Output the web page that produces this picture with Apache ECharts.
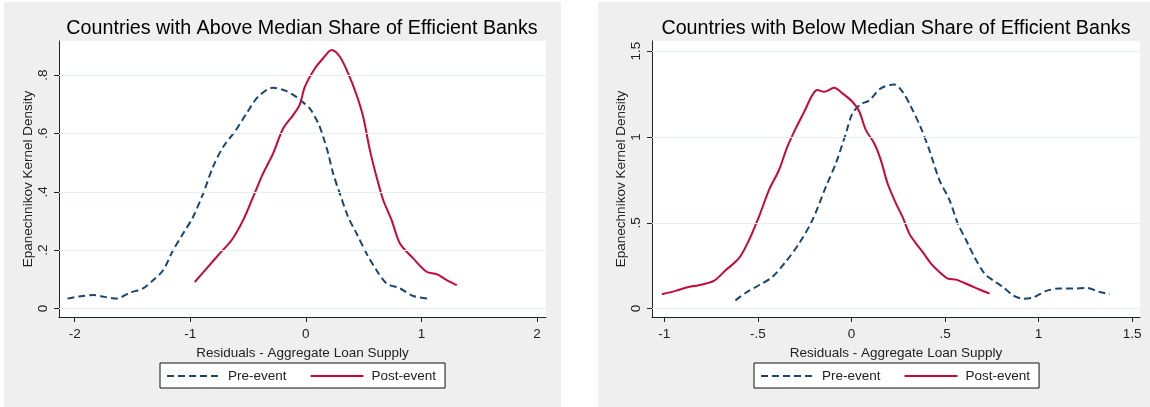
<!DOCTYPE html>
<html>
<head>
<meta charset="utf-8">
<script src="https://cdn.jsdelivr.net/npm/echarts@6/dist/echarts.min.js"></script>
<style>
html,body{margin:0;padding:0;background:#fff;}
#chart{width:1150px;height:407px;}
</style>
</head>
<body>
<div id="chart"></div>
<script>
// ---- Data ----
const titles = ['Countries with Above Median Share of Efficient Banks', 'Countries with Below Median Share of Efficient Banks'];
const seriesNames = ['Pre-event', 'Post-event'];
const xTitle = 'Residuals - Aggregate Loan Supply';
const yTitle = 'Epanechnikov Kernel Density';

const leftXTicks = [-2, -1, 0, 1, 2];
const leftYTicks = [0, 0.2, 0.4, 0.6, 0.8];
const rightXTicks = [-1, -0.5, 0, 0.5, 1, 1.5];
const rightYTicks = [0, 0.5, 1, 1.5];

const abovePre = [[-2.063,0.034],[-1.95,0.042],[-1.841,0.046],[-1.74,0.040],[-1.639,0.034],[-1.524,0.054],[-1.409,0.069],[-1.322,0.097],[-1.235,0.131],[-1.149,0.2],[-1.062,0.257],[-0.976,0.314],[-0.889,0.394],[-0.803,0.486],[-0.716,0.554],[-0.615,0.606],[-0.513,0.669],[-0.413,0.726],[-0.283,0.757],[-0.167,0.745],[-0.1,0.73],[-0.04,0.712],[0.035,0.685],[0.107,0.635],[0.15,0.589],[0.193,0.532],[0.236,0.463],[0.294,0.394],[0.366,0.314],[0.439,0.257],[0.525,0.189],[0.612,0.131],[0.699,0.086],[0.814,0.069],[0.929,0.043],[1.05,0.034]];
const abovePost = [[-0.961,0.091],[-0.86,0.137],[-0.745,0.189],[-0.643,0.234],[-0.543,0.303],[-0.456,0.383],[-0.37,0.463],[-0.283,0.532],[-0.197,0.617],[-0.11,0.663],[-0.052,0.70],[-0.009,0.76],[0.078,0.823],[0.15,0.858],[0.222,0.886],[0.294,0.863],[0.366,0.806],[0.439,0.732],[0.496,0.657],[0.554,0.543],[0.612,0.451],[0.669,0.372],[0.742,0.303],[0.814,0.223],[0.929,0.172],[1.045,0.126],[1.132,0.118],[1.219,0.097],[1.306,0.080]];
const belowPre = [[-0.62,0.048],[-0.566,0.091],[-0.495,0.136],[-0.423,0.184],[-0.352,0.272],[-0.28,0.379],[-0.209,0.515],[-0.137,0.709],[-0.084,0.845],[-0.03,1.02],[0.005,1.137],[0.05,1.19],[0.095,1.213],[0.157,1.283],[0.229,1.306],[0.273,1.263],[0.318,1.176],[0.372,1.05],[0.416,0.924],[0.47,0.749],[0.524,0.632],[0.568,0.496],[0.613,0.398],[0.657,0.301],[0.711,0.204],[0.756,0.165],[0.809,0.126],[0.863,0.078],[0.916,0.058],[0.97,0.064],[1.042,0.103],[1.113,0.117],[1.184,0.117],[1.256,0.12],[1.327,0.097],[1.381,0.083]];
const belowPost = [[-1.013,0.083],[-0.941,0.103],[-0.87,0.126],[-0.816,0.136],[-0.736,0.161],[-0.673,0.223],[-0.602,0.292],[-0.548,0.398],[-0.495,0.534],[-0.441,0.69],[-0.388,0.806],[-0.343,0.942],[-0.298,1.05],[-0.253,1.146],[-0.209,1.244],[-0.182,1.273],[-0.146,1.263],[-0.093,1.286],[-0.048,1.254],[0.005,1.205],[0.041,1.15],[0.077,1.04],[0.122,0.962],[0.157,0.865],[0.193,0.729],[0.238,0.612],[0.273,0.534],[0.309,0.437],[0.345,0.379],[0.38,0.33],[0.425,0.262],[0.47,0.213],[0.515,0.175],[0.559,0.169],[0.631,0.136],[0.684,0.111],[0.738,0.087]];

// ---- Styling ----
const FONT = '"Liberation Sans", Arial, sans-serif';
const NAVY = '#1a476f';
const RED = '#c8083a';
const GRIDC = '#e6eff0';
const AXC = '#222';
const PANEL = '#efefef';

const fmt = v => String(+v.toFixed(2)).replace(/^(-?)0\./, '$1.');

function xAxisFor(idx, min, max, ticks) {
  return {
    type: 'value', gridIndex: idx, min: min, max: max,
    name: xTitle, nameLocation: 'middle', nameGap: 20,
    nameTextStyle: {fontFamily: FONT, fontSize: 13.5, color: '#222'},
    axisLine: {show: true, onZero: false, lineStyle: {color: AXC, width: 1}},
    axisTick: {show: true, length: 5, inside: false, customValues: ticks, lineStyle: {color: AXC}},
    axisLabel: {show: true, customValues: ticks, formatter: fmt, margin: 10,
      fontFamily: FONT, fontSize: 13.5, color: '#222'},
    splitLine: {show: false}
  };
}
function yAxisFor(idx, min, max, ticks) {
  return {
    type: 'value', gridIndex: idx, min: min, max: max,
    name: yTitle, nameLocation: 'middle', nameGap: 24, nameRotate: 90,
    nameTextStyle: {fontFamily: FONT, fontSize: 13.5, color: '#222'},
    axisLine: {show: true, onZero: false, lineStyle: {color: AXC, width: 1}},
    axisTick: {show: true, length: 5, inside: false, customValues: ticks, lineStyle: {color: AXC}},
    axisLabel: {show: true, customValues: ticks, formatter: fmt, rotate: 90, margin: 9,
      fontFamily: FONT, fontSize: 13.5, color: '#222'},
    splitLine: {show: false}
  };
}
function gridSeries(idx, ticks) {
  return {
    type: 'line', name: 'grid' + idx, xAxisIndex: idx, yAxisIndex: idx, data: [], z: 1,
    silent: true,
    markLine: {silent: true, symbol: 'none', animation: false,
      label: {show: false},
      lineStyle: {color: GRIDC, width: 1.2, type: 'solid'},
      data: ticks.map(v => ({yAxis: v}))}
  };
}
function curve(idx, name, data, color, dashed) {
  return {
    type: 'line', name: name, xAxisIndex: idx, yAxisIndex: idx, data: data,
    showSymbol: false, symbol: 'none', smooth: 0.3, z: 3, animation: false,
    lineStyle: {color: color, width: 2, type: dashed ? [7, 4] : 'solid'},
    itemStyle: {color: color}
  };
}
function legendFor(left) {
  return {
    data: seriesNames, left: left, top: 363, orient: 'horizontal',
    itemWidth: 53, itemHeight: 14, itemGap: 23,
    padding: [6, 9, 5, 6],
    backgroundColor: '#fff', borderColor: '#111', borderWidth: 1, borderRadius: 0,
    selectedMode: false,
    itemStyle: {opacity: 0},
    textStyle: {fontFamily: FONT, fontSize: 13.5, color: '#222', padding: [0, 0, 0, 3]}
  };
}

const chart = echarts.init(document.getElementById('chart'), null, {renderer: 'canvas'});
chart.setOption({
  animation: false,
  backgroundColor: '#fff',
  graphic: [
    {type: 'rect', shape: {x: 4, y: 2, width: 557, height: 405}, style: {fill: PANEL}, z: -10, silent: true},
    {type: 'rect', shape: {x: 598, y: 2, width: 552, height: 405}, style: {fill: PANEL}, z: -10, silent: true}
  ],
  title: [
    {text: titles[0], left: 302, top: 19, textAlign: 'center', padding: 0,
      textStyle: {fontFamily: FONT, fontSize: 19.7, fontWeight: 'normal', color: '#000'}},
    {text: titles[1], left: 896, top: 19, textAlign: 'center', padding: 0,
      textStyle: {fontFamily: FONT, fontSize: 19.7, fontWeight: 'normal', color: '#000'}}
  ],
  legend: [legendFor(160), legendFor(754)],
  grid: [
    {left: 59, top: 41, width: 487, height: 276, show: true, backgroundColor: '#fff', borderWidth: 0, containLabel: false},
    {left: 652, top: 41, width: 488, height: 276, show: true, backgroundColor: '#fff', borderWidth: 0, containLabel: false}
  ],
  xAxis: [xAxisFor(0, -2.136, 2.078, leftXTicks), xAxisFor(1, -1.066, 1.542, rightXTicks)],
  yAxis: [yAxisFor(0, -0.029, 0.917, leftYTicks), yAxisFor(1, -0.049, 1.559, rightYTicks)],
  series: [
    gridSeries(0, leftYTicks),
    gridSeries(1, rightYTicks),
    curve(0, seriesNames[0], abovePre, NAVY, true),
    curve(0, seriesNames[1], abovePost, RED, false),
    curve(1, seriesNames[0], belowPre, NAVY, true),
    curve(1, seriesNames[1], belowPost, RED, false)
  ]
});
</script>
</body>
</html>
